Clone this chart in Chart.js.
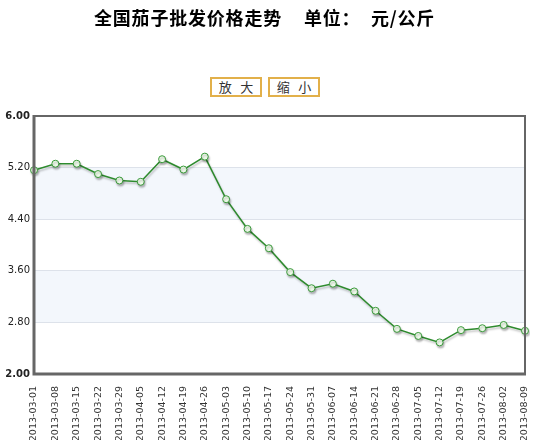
<!DOCTYPE html>
<html>
<head>
<meta charset="utf-8">
<script src="https://cdn.jsdelivr.net/npm/chart.js@4/dist/chart.umd.min.js"></script>
<style>
    body { margin: 0; background: #fff; }
    #wrap { position: relative; width: 548px; height: 440px; }
    .title {
        position: absolute; top: 4px; white-space: nowrap;
        font: bold 18px "Noto Sans CJK SC", sans-serif; color: #000; letter-spacing: 0.8px;
    }
    .btn {
        position: absolute; top: 77px; height: 16px; width: 48px;
        border: 2px solid #e2b04a; background: #fff; white-space: nowrap;
        font: 13px "Noto Sans CJK SC", sans-serif; color: #333;
        text-align: center; line-height: 16px;
    }
    canvas { position: absolute; left: 0; top: 0; }
</style>
</head>
<body>
<div id="wrap">
    <canvas id="chart" width="548" height="440"></canvas>
    <div class="title" style="left:94px">全国茄子批发价格走势</div>
    <div class="title" style="left:304px">单位：</div>
    <div class="title" style="left:371px">元/公斤</div>
    <div class="btn" style="left:210px">放&nbsp;&nbsp;&nbsp;大</div>
    <div class="btn" style="left:268px">缩&nbsp;&nbsp;&nbsp;小</div>
</div>
<script>
    const dates = [
        "2013-03-01", "2013-03-08", "2013-03-15", "2013-03-22", "2013-03-29", "2013-04-05",
        "2013-04-12", "2013-04-19", "2013-04-26", "2013-05-03", "2013-05-10", "2013-05-17",
        "2013-05-24", "2013-05-31", "2013-06-07", "2013-06-14", "2013-06-21", "2013-06-28",
        "2013-07-05", "2013-07-12", "2013-07-19", "2013-07-26", "2013-08-02", "2013-08-09"
    ];
    const prices = [
        5.16, 5.26, 5.26, 5.10, 5.00, 4.98,
        5.33, 5.17, 5.37, 4.71, 4.25, 3.95,
        3.58, 3.33, 3.40, 3.28, 2.98, 2.70,
        2.59, 2.49, 2.68, 2.71, 2.76, 2.67
    ];
    const yTicks = [2.00, 2.80, 3.60, 4.40, 5.20, 6.00];

    // bandas azuladas alternadas e moldura do grafico
    const frame = {
        id: "frame",
        beforeDraw(chart) {
            const { ctx, chartArea: a, scales: { y } } = chart;
            ctx.save();
            ctx.fillStyle = "#f3f7fc";
            for (let i = 1; i < yTicks.length - 1; i += 2) {
                const top = y.getPixelForValue(yTicks[i + 1]);
                const bot = y.getPixelForValue(yTicks[i]);
                ctx.fillRect(a.left, top, a.right - a.left, bot - top);
            }
            ctx.restore();
        },
        afterDraw(chart) {
            const { ctx, chartArea: a } = chart;
            ctx.save();
            ctx.strokeStyle = "#666";
            ctx.lineWidth = 2;
            ctx.strokeRect(a.left, a.top, a.right - a.left, a.bottom - a.top);
            ctx.lineWidth = 3;
            ctx.beginPath();
            ctx.moveTo(a.left, a.top - 1);
            ctx.lineTo(a.left, a.bottom);
            ctx.lineTo(a.right + 1, a.bottom);
            ctx.stroke();
            ctx.restore();
        },
        beforeDatasetDraw(chart) {
            const ctx = chart.ctx;
            ctx.save();
            ctx.shadowColor = "rgba(0,0,0,0.25)";
            ctx.shadowOffsetX = 1;
            ctx.shadowOffsetY = 2;
            ctx.shadowBlur = 2;
        },
        afterDatasetDraw(chart) {
            chart.ctx.restore();
        }
    };

    new Chart(document.getElementById("chart").getContext("2d"), {
        type: "line",
        data: {
            labels: dates,
            datasets: [{
                data: prices,
                borderColor: "#2e8b2e",
                borderWidth: 1.5,
                pointBackgroundColor: "#eefaea",
                pointBorderColor: "#3a9a3a",
                pointBorderWidth: 1,
                pointRadius: 3.5,
                tension: 0,
                fill: false
            }]
        },
        options: {
            responsive: false,
            animation: false,
            events: [],
            layout: { padding: { top: 116, right: 23, left: 0, bottom: 0 } },
            plugins: { legend: { display: false }, tooltip: { enabled: false } },
            scales: {
                x: {
                    offset: false,
                    grid: { display: false },
                    border: { display: false },
                    afterFit(scale) { scale.height = 66; },
                    ticks: {
                        autoSkip: false,
                        maxRotation: 90,
                        minRotation: 90,
                        padding: 4,
                        color: "#333",
                        font: { family: "DejaVu Sans", size: 9.5 }
                    }
                },
                y: {
                    min: 2,
                    max: 6,
                    afterFit(scale) { scale.width = 34; },
                    afterBuildTicks(scale) { scale.ticks = yTicks.map(v => ({ value: v })); },
                    grid: { color: "#dde2ea", drawTicks: false },
                    border: { display: false },
                    ticks: {
                        padding: 4,
                        color: "#222",
                        callback: v => v.toFixed(2),
                        font: ctx => ({
                            family: "DejaVu Sans",
                            size: 10,
                            weight: (ctx.index === 0 || ctx.index === yTicks.length - 1) ? "bold" : "normal"
                        })
                    }
                }
            }
        },
        plugins: [frame]
    });
</script>
</body>
</html>
